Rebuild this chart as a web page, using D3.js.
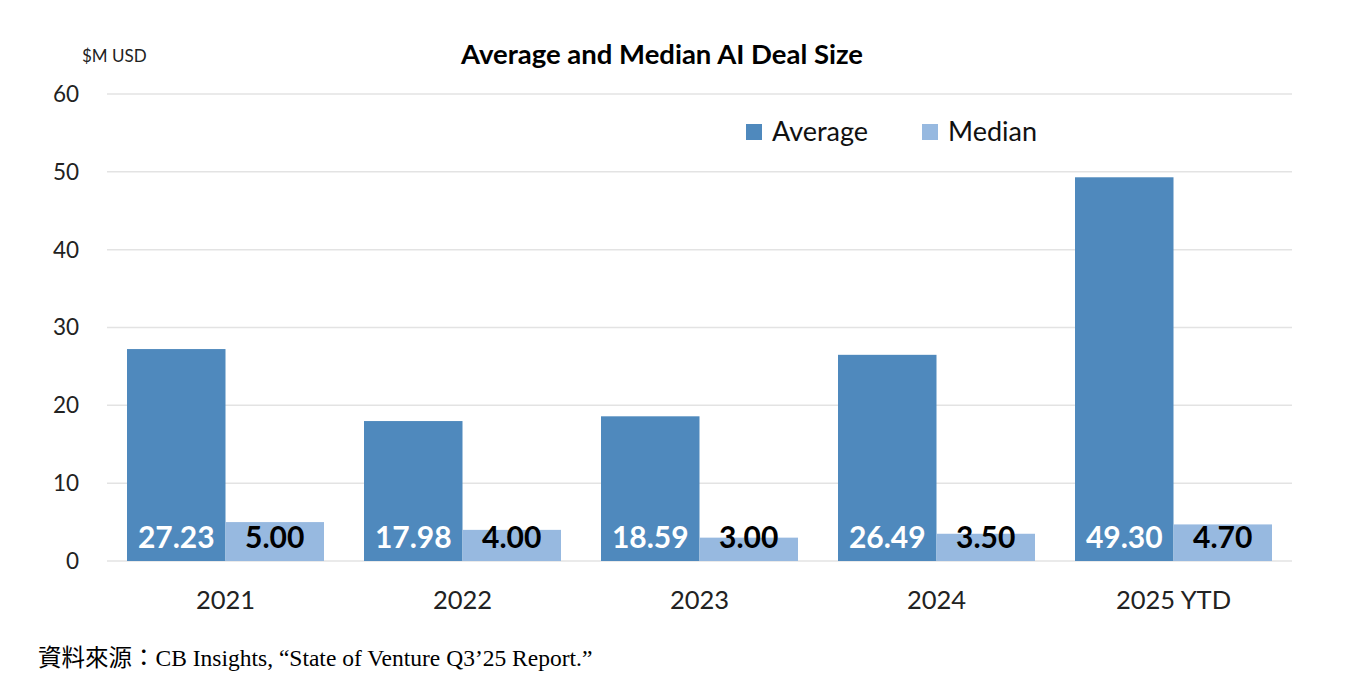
<!DOCTYPE html>
<html>
<head>
<meta charset="utf-8">
<script src="https://cdn.jsdelivr.net/npm/d3@7"></script>
<style>
  body { margin: 0; background: #fff; }
  svg text { font-family: Lato, "Open Sans", sans-serif; }
</style>
</head>
<body>
<div id="chart"></div>
<script>
const WIDTH = 1345;
const HEIGHT = 686;

// datos
const years = ["2021", "2022", "2023", "2024", "2025 YTD"];
const average = [27.23, 17.98, 18.59, 26.49, 49.30];
const median = [5.00, 4.00, 3.00, 3.50, 4.70];
const seriesNames = ["Average", "Median"];
const yTicks = [0, 10, 20, 30, 40, 50, 60];

const colors = ["#4f89bd", "#97b9e0"];
const labelColors = ["#ffffff", "#000000"];

const svg = d3.select("#chart")
  .append("svg")
  .attr("width", WIDTH)
  .attr("height", HEIGHT);

const escalaX = d3.scaleBand()
  .domain(years)
  .range([107, 1292]);

const escalaSerie = d3.scaleBand()
  .domain(seriesNames)
  .range([20, escalaX.bandwidth() - 20]);

const escalaY = d3.scaleLinear()
  .domain([0, 60])
  .range([561, 94]);

// grid
svg.append("g")
  .selectAll("line")
  .data(yTicks)
  .join("line")
  .attr("x1", 107)
  .attr("x2", 1292)
  .attr("y1", d => escalaY(d))
  .attr("y2", d => escalaY(d))
  .attr("stroke", "#e3e3e3")
  .attr("stroke-width", 1.5);

// eje y
svg.append("g")
  .selectAll("text")
  .data(yTicks)
  .join("text")
  .attr("x", 79)
  .attr("y", d => escalaY(d))
  .attr("dy", "0.35em")
  .attr("text-anchor", "end")
  .attr("font-size", 22.5)
  .attr("fill", "#222")
  .text(d => d);

// eje x
svg.append("g")
  .selectAll("text")
  .data(years)
  .join("text")
  .attr("x", d => escalaX(d) + escalaX.bandwidth() / 2)
  .attr("y", 600)
  .attr("dy", "0.35em")
  .attr("text-anchor", "middle")
  .attr("font-size", 25.5)
  .attr("fill", "#222")
  .text(d => d);

// barras
const tabla = years.map((y, i) => ({ year: y, values: [average[i], median[i]] }));

const grupos = svg.append("g")
  .selectAll("g")
  .data(tabla)
  .join("g")
  .attr("transform", d => `translate(${escalaX(d.year)},0)`);

grupos.selectAll("rect")
  .data(d => d.values.map((v, j) => ({ key: seriesNames[j], value: v, j: j })))
  .join("rect")
  .attr("x", d => escalaSerie(d.key))
  .attr("width", escalaSerie.bandwidth())
  .attr("y", d => escalaY(d.value))
  .attr("height", d => escalaY(0) - escalaY(d.value))
  .attr("fill", d => colors[d.j]);

grupos.selectAll("text.valor")
  .data(d => d.values.map((v, j) => ({ key: seriesNames[j], value: v, j: j })))
  .join("text")
  .attr("class", "valor")
  .attr("x", d => escalaSerie(d.key) + escalaSerie.bandwidth() / 2)
  .attr("y", 537)
  .attr("dy", "0.35em")
  .attr("text-anchor", "middle")
  .attr("font-size", 30)
  .attr("font-weight", "bold")
  .attr("fill", d => labelColors[d.j])
  .text(d => d.value.toFixed(2));

// titulo
svg.append("text")
  .attr("x", 662)
  .attr("y", 54)
  .attr("dy", "0.35em")
  .attr("text-anchor", "middle")
  .attr("font-size", 27.5)
  .attr("font-weight", "bold")
  .attr("fill", "#000")
  .text("Average and Median AI Deal Size");

svg.append("text")
  .attr("x", 82)
  .attr("y", 56)
  .attr("dy", "0.35em")
  .attr("font-size", 17)
  .attr("fill", "#222")
  .text("$M USD");

// leyenda
const leyendaX = [746, 922];
const leyenda = svg.append("g")
  .selectAll("g")
  .data(seriesNames)
  .join("g")
  .attr("transform", (d, i) => `translate(${leyendaX[i]},124)`);

leyenda.append("rect")
  .attr("width", 16)
  .attr("height", 16)
  .attr("fill", (d, i) => colors[i]);

leyenda.append("text")
  .attr("x", 26)
  .attr("y", 8)
  .attr("dy", "0.35em")
  .attr("font-size", 27)
  .attr("fill", "#111")
  .text(d => d);

// fuente
svg.append("text")
  .attr("x", 38)
  .attr("y", 658)
  .attr("dy", "0.35em")
  .attr("font-size", 23.5)
  .attr("fill", "#000")
  .style("font-family", "'Liberation Serif', 'Noto Sans CJK TC', serif")
  .text("資料來源：CB Insights, “State of Venture Q3’25 Report.”");
</script>
</body>
</html>
